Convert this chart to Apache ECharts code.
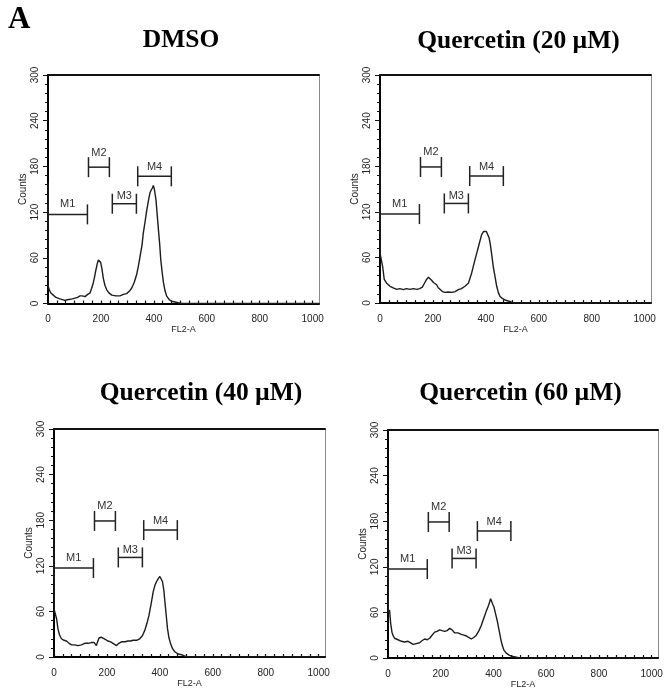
<!DOCTYPE html>
<html>
<head>
<meta charset="utf-8">
<script src="https://cdn.jsdelivr.net/npm/echarts@6/dist/echarts.min.js"></script>
<style>
html,body{margin:0;padding:0;background:#fff;}
#chart{width:670px;height:695px;}
</style>
</head>
<body>
<div id="chart"></div>
<script>
// ---- Data ----
const panelTitles = ['DMSO', 'Quercetin (20 \u00B5M)', 'Quercetin (40 \u00B5M)', 'Quercetin (60 \u00B5M)'];
const xTickLabels = [0, 200, 400, 600, 800, 1000];
const yTickLabels = [0, 60, 120, 180, 240, 300];
const markerNames = ['M1', 'M2', 'M3', 'M4'];
const markerStart = [0, 153, 243, 339];
const markerEnd = [149, 232, 334, 466];
const markerLevel = [117, 179, 131, 167];

const dmsoX = [0, 1, 5, 10, 20, 30, 45, 55, 63, 73, 83, 92, 102, 112, 121, 130, 140, 150, 159, 165, 171, 176, 181, 186, 190, 194, 199, 204, 209, 215, 222, 230, 241, 256, 272, 285, 297, 307, 316, 326, 335, 342, 350, 355, 360, 367, 373, 380, 385, 390, 395, 398, 402, 408, 413, 417, 422, 426, 431, 436, 442, 448, 458, 467, 480, 492, 505, 1024];
const dmsoY = [158, 22, 18, 14, 11, 8, 6, 5, 4, 5, 5.5, 6, 7, 8, 10, 10, 9, 12, 14, 20, 27, 35, 44, 52, 57, 58, 54, 45, 33, 24, 18, 14, 11, 10, 10, 12, 13, 16, 20, 28, 38, 50, 66, 76, 92, 108, 122, 136, 145, 149, 152, 155, 150, 136, 115, 98, 78, 58, 42, 28, 17, 10, 5, 3, 2, 1, 0, 0];

const q20X = [0, 1, 4, 6, 10, 16, 25, 38, 50, 63, 75, 88, 100, 113, 126, 139, 150, 160, 168, 176, 183, 189, 195, 202, 208, 214, 220, 227, 236, 246, 258, 271, 284, 296, 308, 321, 334, 346, 359, 372, 384, 391, 397, 402, 407, 412, 416, 422, 428, 435, 441, 447, 453, 462, 472, 491, 504, 1024];
const q20Y = [193, 64, 62, 66, 48, 31, 26, 22, 20, 18, 19, 17.5, 19, 18, 19, 18, 19, 21, 26, 31, 34, 36, 30, 27, 26, 24, 20, 17.5, 15, 14, 14.5, 14, 15, 17.5, 19, 22, 26, 39, 57, 74, 90, 94, 95, 94, 92, 86, 79, 64, 48, 34, 22, 14, 9, 6, 4, 2, 0, 0];

const q40X = [0, 1, 3, 6, 10, 15, 21, 28, 38, 47, 57, 66, 78, 91, 104, 116, 129, 141, 152, 160, 165, 170, 178, 185, 195, 204, 214, 223, 230, 236, 245, 255, 268, 280, 290, 299, 312, 324, 334, 343, 351, 359, 367, 375, 381, 387, 394, 400, 405, 410, 415, 419, 424, 429, 434, 440, 448, 456, 469, 482, 501, 1024];
const q40Y = [190, 62, 60, 64, 50, 37, 29, 24, 22, 21, 18, 16, 16, 15, 16, 18, 18, 19, 19, 15, 20, 25, 26, 25, 23, 21, 20, 18, 17, 15, 18, 20, 20, 21, 21, 22, 22, 24, 28, 35, 44, 55, 70, 86, 94, 99, 103, 106, 104, 99, 88, 73, 55, 37, 26, 18, 11, 7, 4, 3, 0, 0];

const q60X = [0, 1, 3, 6, 10, 15, 20, 25, 38, 51, 63, 76, 86, 95, 107, 120, 130, 139, 149, 158, 167, 177, 186, 196, 205, 215, 224, 234, 243, 253, 265, 278, 288, 297, 306, 316, 325, 335, 345, 354, 361, 367, 373, 379, 384, 389, 394, 398, 402, 408, 415, 421, 427, 433, 440, 450, 461, 474, 487, 499, 1024];
const q60Y = [188, 60, 58, 63, 46, 34, 29, 26, 24, 22, 21, 22, 20, 18, 19, 20, 23, 25, 24, 26, 30, 34, 35, 37, 36, 35, 36, 39, 37, 33, 33, 31, 30, 29, 27, 25, 27, 30, 36, 43, 50, 56, 62, 67, 72, 78, 76, 70, 67, 58, 48, 37, 26, 17, 10, 6, 3.5, 2, 1, 0, 0];

const seriesX = [dmsoX, q20X, q40X, q60X];
const seriesY = [dmsoY, q20Y, q40Y, q60Y];

// ---- Layout / style (not data) ----
const grids = [
  {left: 48, top: 75, width: 271, height: 228.5},
  {left: 380, top: 75, width: 271, height: 228},
  {left: 54, top: 429, width: 271, height: 228},
  {left: 388, top: 430, width: 270, height: 228}
];
const titlePos = [[181, 40], [518.5, 41], [201, 393.5], [520.5, 393.5]];
const labelGap = [5, 9, 2, 4];
const xMinorTicks = [];
for (let i = 0; i <= 30; i++) xMinorTicks.push(i * 1000 / 30);

const sans = '"Liberation Sans", Arial, sans-serif';
const serif = '"Liberation Serif", "Times New Roman", serif';

const xAxes = [], yAxes = [], series = [];
grids.forEach((g, i) => {
  xAxes.push({
    type: 'value', gridIndex: i, min: 0, max: 1024, position: 'bottom',
    axisLine: {show: true, onZero: false, lineStyle: {color: '#000', width: 2}},
    axisTick: {show: true, inside: true, length: 3, customValues: xMinorTicks, lineStyle: {color: '#111', width: 1.2}},
    axisLabel: {customValues: xTickLabels, formatter: v => String(v), fontSize: 10, color: '#222', margin: 11, fontFamily: sans},
    splitLine: {show: false},
    name: 'FL2-A', nameLocation: 'middle', nameGap: 22,
    nameTextStyle: {fontSize: 9, color: '#222', fontFamily: sans}
  });
  xAxes.push({
    type: 'value', gridIndex: i, min: 0, max: 1024, position: 'top',
    axisLine: {show: true, onZero: false, lineStyle: {color: '#111', width: 2}},
    axisTick: {show: false}, axisLabel: {show: false}, splitLine: {show: false}
  });
  yAxes.push({
    type: 'value', gridIndex: i, min: 0, max: 300, interval: 60, position: 'left',
    axisLine: {show: true, onZero: false, lineStyle: {color: '#000', width: 2}},
    axisTick: {show: true, length: 5, lineStyle: {color: '#111', width: 1}},
    minorTick: {show: true, splitNumber: 5, length: 3, lineStyle: {color: '#111', width: 1}},
    axisLabel: {rotate: 90, fontSize: 10, color: '#222', margin: 8, fontFamily: sans},
    splitLine: {show: false}, minorSplitLine: {show: false},
    name: 'Counts', nameLocation: 'middle', nameGap: 20, nameRotate: 90,
    nameTextStyle: {fontSize: 10, color: '#222', fontFamily: sans}
  });
  yAxes.push({
    type: 'value', gridIndex: i, min: 0, max: 300, position: 'right',
    axisLine: {show: true, onZero: false, lineStyle: {color: '#8a8a8a', width: 1}},
    axisTick: {show: false}, axisLabel: {show: false}, splitLine: {show: false}
  });
  series.push({
    type: 'line', xAxisIndex: 2 * i, yAxisIndex: 2 * i,
    data: seriesX[i].map((x, k) => [x, seriesY[i][k]]),
    showSymbol: false, symbol: 'none', silent: true,
    lineStyle: {color: '#1c1c1c', width: 1.4}
  });
  series.push({
    type: 'custom', xAxisIndex: 2 * i, yAxisIndex: 2 * i, silent: true,
    data: markerNames.map((n, k) => [markerStart[k], markerEnd[k], markerLevel[k]]),
    renderItem: function (params, api) {
      const k = params.dataIndex;
      const p1 = api.coord([api.value(0), api.value(2)]);
      const p2 = api.coord([api.value(1), api.value(2)]);
      const st = {stroke: '#222', lineWidth: 1.5};
      return {
        type: 'group',
        children: [
          {type: 'line', shape: {x1: p1[0], y1: p1[1], x2: p2[0], y2: p2[1]}, style: st},
          {type: 'line', shape: {x1: p1[0], y1: p1[1] - 10, x2: p1[0], y2: p1[1] + 10}, style: st},
          {type: 'line', shape: {x1: p2[0], y1: p2[1] - 10, x2: p2[0], y2: p2[1] + 10}, style: st},
          {type: 'text', x: (p1[0] + p2[0]) / 2, y: p1[1] - labelGap[k],
            style: {text: markerNames[k], fill: '#333', font: '11px ' + sans, align: 'center', verticalAlign: 'bottom'}}
        ]
      };
    }
  });
});

const graphics = [{
  type: 'text', x: 8, y: 20,
  style: {text: 'A', font: 'bold 31px ' + serif, fill: '#000', align: 'left', verticalAlign: 'middle'}
}];
panelTitles.forEach((t, i) => {
  graphics.push({
    type: 'text', x: titlePos[i][0], y: titlePos[i][1],
    style: {text: t, font: 'bold 25.5px ' + serif, fill: '#000', align: 'center', verticalAlign: 'middle'}
  });
});

const chart = echarts.init(document.getElementById('chart'), null, {renderer: 'canvas'});
chart.setOption({
  animation: false,
  backgroundColor: '#fff',
  grid: grids.map(g => Object.assign({containLabel: false}, g)),
  xAxis: xAxes,
  yAxis: yAxes,
  series: series,
  graphic: graphics
});
</script>
</body>
</html>
